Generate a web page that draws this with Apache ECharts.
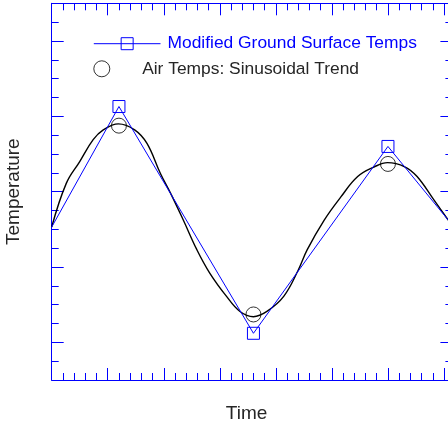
<!DOCTYPE html>
<html><head><meta charset="utf-8">
<script src="https://cdn.jsdelivr.net/npm/echarts@6/dist/echarts.min.js"></script>
<style>html,body{margin:0;padding:0;background:#fff}#c{width:448px;height:430px}</style>
</head><body><div id="c"></div>
<script>
// ---- data ----
const seriesNames = ['Modified Ground Surface Temps', 'Air Temps: Sinusoidal Trend'];
const xLabel = 'Time';
const yLabel = 'Temperature';
const groundX = [0, 6, 18, 30, 36];
const groundY = [-0.47, 1.13, -1.88, 0.60, -0.49];
const groundMarked = [false, true, true, true, false];
const airPointX = [6, 18, 30];
const airPointY = [0.876, -1.63, 0.368];
const airCurveX = [0, 1.3, 2.5, 3.7, 4.6, 5.95, 7.4, 8.5, 9.7, 10.6, 11.75, 12.95, 14.1, 15.6, 16.8, 18, 19.2, 20.7, 22, 22.8, 24.3, 25.8, 27.3, 28.8, 29.96, 31.5, 32.6, 34.1, 35.4, 36];
const airCurveY = [-0.47, 0.11, 0.40, 0.69, 0.82, 0.90, 0.82, 0.64, 0.24, -0.02, -0.38, -0.77, -1.08, -1.39, -1.59, -1.66, -1.59, -1.39, -1.04, -0.77, -0.38, -0.07, 0.20, 0.33, 0.385, 0.33, 0.20, -0.11, -0.38, -0.5];
const xRange = [0, 35.75];
const yRange = [-2.5, 2.5];
const xMinorStep = 1;
const xMajorTicks = [0, 5, 10, 15, 20, 25, 30, 35];
const yMinorStep = 0.25;
const yMajorTicks = [-2, -1, 0, 1, 2];

// ---- chart ----
const BLUE = '#0000ff';
const FONT = 'Liberation Sans, Arial, Helvetica, sans-serif';
const chart = echarts.init(document.getElementById('c'), null, {renderer: 'canvas'});
const gridRect = {left: 51.7, right: -4.4, top: 3.3, bottom: 50, containLabel: false, outerBoundsMode: 'none'};

function ax(range, step, majors, pos, major, gi, extra) {
  const o = {
    type: 'value', gridIndex: gi, position: pos, min: range[0], max: range[1],
    axisLine: {show: !major, onZero: false, lineStyle: {color: BLUE, width: 1}},
    axisLabel: {show: false}, splitLine: {show: false}, minorTick: {show: false}
  };
  if (major) {
    o.axisTick = {show: true, inside: true, length: 12, customValues: majors, lineStyle: {color: BLUE, width: 1}};
  } else {
    o.interval = step;
    o.axisTick = {show: true, inside: true, length: 7, lineStyle: {color: BLUE, width: 1}};
  }
  return Object.assign(o, extra || {});
}

const option = {
  backgroundColor: '#fff',
  animation: false,
  grid: [0, 1, 2, 3].map(() => Object.assign({}, gridRect)),
  xAxis: [
    ax(xRange, xMinorStep, xMajorTicks, 'bottom', false, 0, {name: xLabel, nameLocation: 'middle', nameGap: 24,
      nameTextStyle: {fontFamily: FONT, fontSize: 19, color: '#262626', padding: [0, 11, 0, 0]}}),
    ax(xRange, xMinorStep, xMajorTicks, 'bottom', true, 1),
    ax(xRange, xMinorStep, xMajorTicks, 'top', false, 2),
    ax(xRange, xMinorStep, xMajorTicks, 'top', true, 3)
  ],
  yAxis: [
    ax(yRange, yMinorStep, yMajorTicks, 'left', false, 0, {name: yLabel, nameLocation: 'middle', nameGap: 28,
      nameTextStyle: {fontFamily: FONT, fontSize: 19, color: '#262626'}}),
    ax(yRange, yMinorStep, yMajorTicks, 'left', true, 1),
    ax(yRange, yMinorStep, yMajorTicks, 'right', false, 2),
    ax(yRange, yMinorStep, yMajorTicks, 'right', true, 3)
  ],
  legend: [
    {data: [seriesNames[0]], left: 88.3, top: 30.2, orient: 'vertical', selectedMode: false,
     itemWidth: 66.7, itemHeight: 15,
     itemStyle: {color: 'rgba(0,0,0,0)', borderColor: BLUE, borderWidth: 1},
     lineStyle: {color: BLUE, width: 1},
     textStyle: {fontFamily: FONT, fontSize: 17.4, color: BLUE, lineHeight: 15, padding: [0, 0, 0, 2]}},
    {data: [{name: seriesNames[1], icon: 'circle'}], left: 88.3, top: 55.3, orient: 'vertical', selectedMode: false,
     itemWidth: 66.7, itemHeight: 16,
     itemStyle: {color: 'rgba(0,0,0,0)', borderColor: '#000', borderWidth: 1},
     textStyle: {fontFamily: FONT, fontSize: 17.4, color: '#262626', lineHeight: 16, padding: [0, 0, 0, 2]}}
  ],
  series: [
    {
      name: 'air-curve', type: 'line', xAxisIndex: 0, yAxisIndex: 0, animation: false,
      data: airCurveX.map((x, i) => [x, airCurveY[i]]),
      smooth: 0.4, showSymbol: false, symbol: 'none',
      lineStyle: {color: '#000', width: 1.4}, z: 2
    },
    {
      name: seriesNames[0], type: 'line', xAxisIndex: 0, yAxisIndex: 0, animation: false,
      data: groundX.map((x, i) => groundMarked[i] ? {value: [x, groundY[i]]} : {value: [x, groundY[i]], symbol: 'none'}),
      symbol: 'rect', symbolSize: 12, showAllSymbol: true,
      lineStyle: {color: BLUE, width: 1},
      itemStyle: {color: 'rgba(0,0,0,0)', borderColor: BLUE, borderWidth: 1}, z: 3
    },
    {
      name: seriesNames[1], type: 'scatter', xAxisIndex: 0, yAxisIndex: 0, animation: false,
      data: airPointX.map((x, i) => [x, airPointY[i]]),
      symbol: 'circle', symbolSize: 15,
      itemStyle: {color: 'rgba(0,0,0,0)', borderColor: '#000', borderWidth: 1}, z: 4
    }
  ]
};
chart.setOption(option);
</script>
</body></html>
